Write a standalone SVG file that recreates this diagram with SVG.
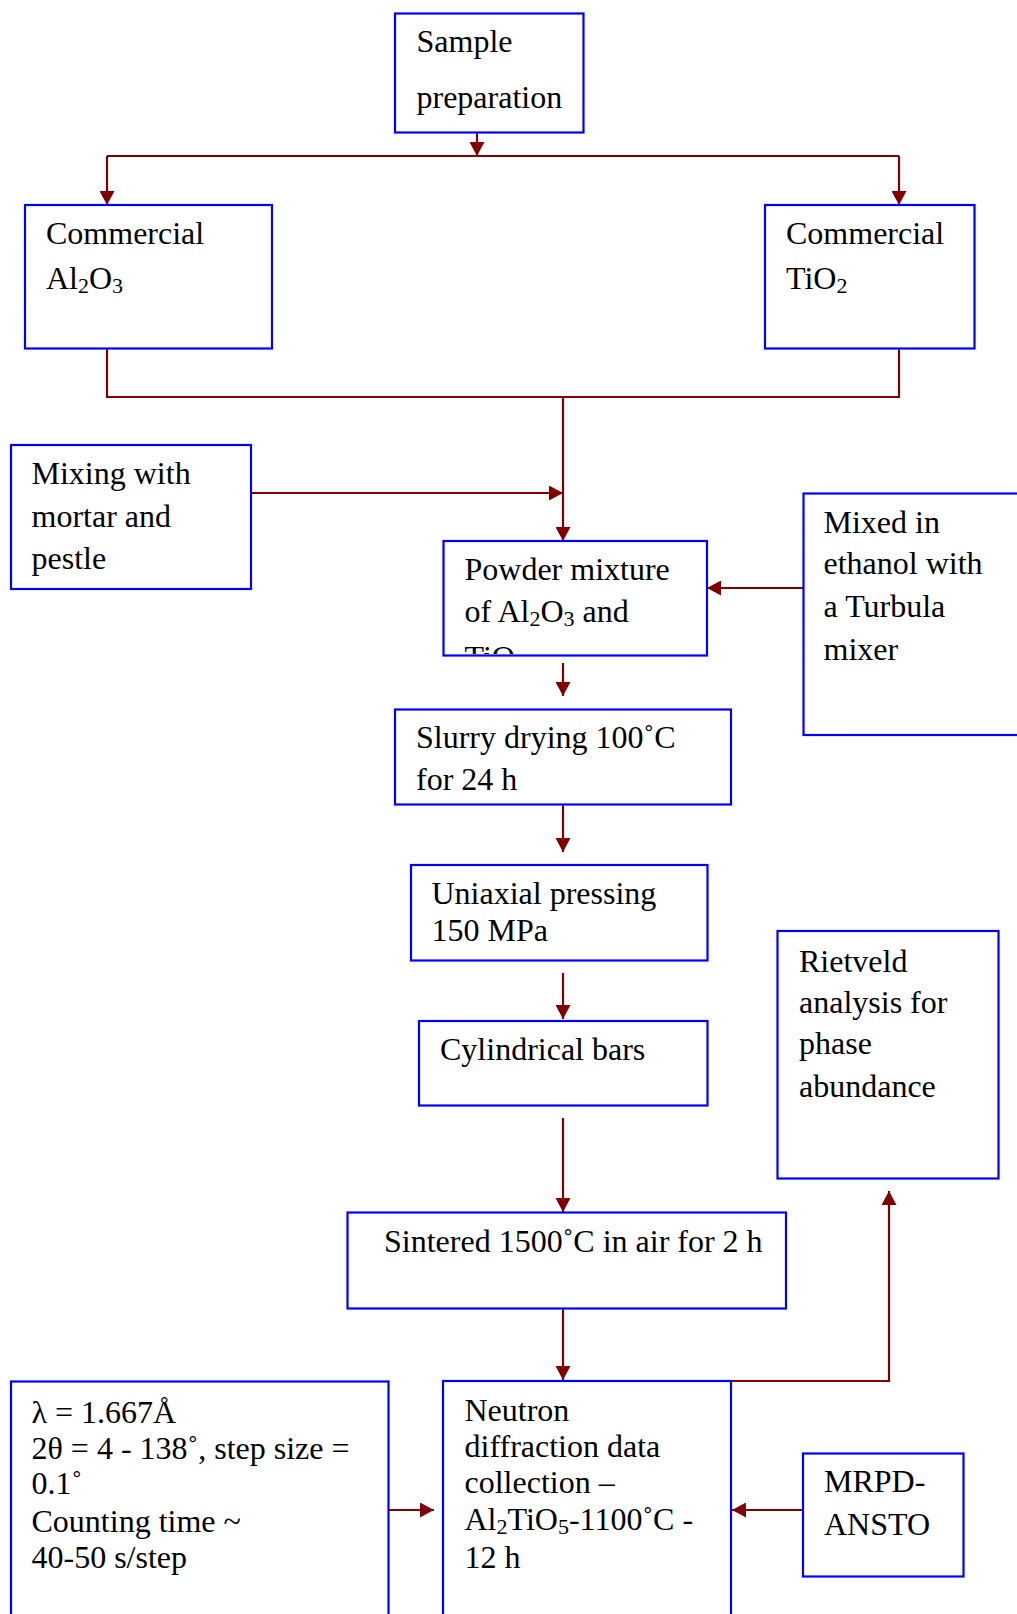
<svg xmlns="http://www.w3.org/2000/svg" width="1017" height="1614" viewBox="0 0 1017 1614">
<style>
.box{fill:#fff;stroke:#0000ff;stroke-width:2.2}
.t{font-family:"Liberation Serif","Times New Roman",serif;font-size:32px;fill:#000}
.sub{font-size:22px}
.c{fill:none;stroke:#800000;stroke-width:2.2}
</style>
<defs>
<marker id="ah" markerUnits="userSpaceOnUse" markerWidth="15" markerHeight="15" refX="14" refY="7.5" orient="auto">
<path d="M0,0 L14,7.5 L0,15 z" fill="#800000"/>
</marker>
<clipPath id="powderClip"><rect x="443" y="541" width="264" height="113"/></clipPath>
</defs>
<rect width="1017" height="1614" fill="#fff"/>
<g id="connectors">
<path class="c" d="M477,133 V156" marker-end="url(#ah)"/>
<path class="c" d="M107,156 H899"/>
<path class="c" d="M107,156 V205" marker-end="url(#ah)"/>
<path class="c" d="M899,156 V205" marker-end="url(#ah)"/>
<path class="c" d="M107,348 V397 H899 V348"/>
<path class="c" d="M563,397 V541" marker-end="url(#ah)"/>
<path class="c" d="M251,493 H563" marker-end="url(#ah)"/>
<path class="c" d="M803,588 H707" marker-end="url(#ah)"/>
<path class="c" d="M563,663 V696" marker-end="url(#ah)"/>
<path class="c" d="M563,805 V852" marker-end="url(#ah)"/>
<path class="c" d="M563,973 V1019" marker-end="url(#ah)"/>
<path class="c" d="M563,1118 V1212" marker-end="url(#ah)"/>
<path class="c" d="M563,1309 V1380" marker-end="url(#ah)"/>
<path class="c" d="M388,1510 H434" marker-end="url(#ah)"/>
<path class="c" d="M803,1510 H732" marker-end="url(#ah)"/>
<path class="c" d="M731,1381 H889 V1191" marker-end="url(#ah)"/>
</g>
<g id="sample">
<rect class="box" x="395" y="13.5" width="188.5" height="119"/>
<text class="t" x="416.5" y="52">Sample</text>
<text class="t" x="416.5" y="108">preparation</text>
</g>
<g id="al2o3">
<rect class="box" x="25" y="205" width="247" height="143.5"/>
<text class="t" x="46" y="244">Commercial</text>
<text class="t" x="46" y="289">Al<tspan class="sub" dy="4">2</tspan><tspan dy="-4">O</tspan><tspan class="sub" dy="4">3</tspan></text>
</g>
<g id="tio2">
<rect class="box" x="765" y="205" width="209.5" height="143.5"/>
<text class="t" x="786" y="244">Commercial</text>
<text class="t" x="786" y="289">TiO<tspan class="sub" dy="4">2</tspan></text>
</g>
<g id="mixing">
<rect class="box" x="11" y="445" width="240" height="144"/>
<text class="t" x="31.5" y="483.5">Mixing with</text>
<text class="t" x="31.5" y="526.5">mortar and</text>
<text class="t" x="31.5" y="568.5">pestle</text>
</g>
<g id="powder">
<rect class="box" x="443.5" y="541" width="263.5" height="114.5"/>
<text class="t" x="464.5" y="579.5">Powder mixture</text>
<text class="t" x="464.5" y="621.5">of Al<tspan class="sub" dy="4">2</tspan><tspan dy="-4">O</tspan><tspan class="sub" dy="4">3</tspan><tspan dy="-4"> and</tspan></text>
<text class="t" x="464.5" y="668" clip-path="url(#powderClip)">TiO<tspan class="sub" dy="4">2</tspan></text>
</g>
<g id="ethanol">
<rect class="box" x="803.5" y="493.5" width="240" height="241.5"/>
<text class="t" x="823.5" y="532.5">Mixed in</text>
<text class="t" x="823.5" y="574">ethanol with</text>
<text class="t" x="823.5" y="616.5">a Turbula</text>
<text class="t" x="823.5" y="660">mixer</text>
</g>
<g id="slurry">
<rect class="box" x="395" y="709.5" width="336" height="95"/>
<text class="t" x="416" y="747.5">Slurry drying 100˚C</text>
<text class="t" x="416" y="789.5">for 24 h</text>
</g>
<g id="uniaxial">
<rect class="box" x="411" y="865" width="296.5" height="95.5"/>
<text class="t" x="431.5" y="904">Uniaxial pressing</text>
<text class="t" x="431.5" y="941">150 MPa</text>
</g>
<g id="cylindrical">
<rect class="box" x="419" y="1021" width="288.5" height="84.5"/>
<text class="t" x="440" y="1060">Cylindrical bars</text>
</g>
<g id="sintered">
<rect class="box" x="347.5" y="1212.5" width="438.5" height="96"/>
<text class="t" x="384" y="1251.5">Sintered 1500˚C in air for 2 h</text>
</g>
<g id="rietveld">
<rect class="box" x="777.5" y="931" width="221" height="247.5"/>
<text class="t" x="799" y="971.5">Rietveld</text>
<text class="t" x="799" y="1012.5">analysis for</text>
<text class="t" x="799" y="1053.5">phase</text>
<text class="t" x="799" y="1096.5">abundance</text>
</g>
<g id="params">
<rect class="box" x="11" y="1381.5" width="377.5" height="260"/>
<text class="t" x="31.5" y="1422.5">λ = 1.667Å</text>
<text class="t" x="31.5" y="1458.5">2θ = 4 - 138˚, step size =</text>
<text class="t" x="31.5" y="1494">0.1˚</text>
<text class="t" x="31.5" y="1531.5">Counting time ~</text>
<text class="t" x="31.5" y="1567.5">40-50 s/step</text>
</g>
<g id="neutron">
<rect class="box" x="443" y="1381" width="288" height="260"/>
<text class="t" x="464.5" y="1420.5">Neutron</text>
<text class="t" x="464.5" y="1456.5">diffraction data</text>
<text class="t" x="464.5" y="1492.5">collection –</text>
<text class="t" x="464.5" y="1530">Al<tspan class="sub" dy="4">2</tspan><tspan dy="-4">TiO</tspan><tspan class="sub" dy="4">5</tspan><tspan dy="-4">-1100˚C -</tspan></text>
<text class="t" x="464.5" y="1568">12 h</text>
</g>
<g id="mrpd">
<rect class="box" x="803" y="1453.5" width="160.5" height="123"/>
<text class="t" x="824" y="1491.5">MRPD-</text>
<text class="t" x="824" y="1535">ANSTO</text>
</g>
</svg>
